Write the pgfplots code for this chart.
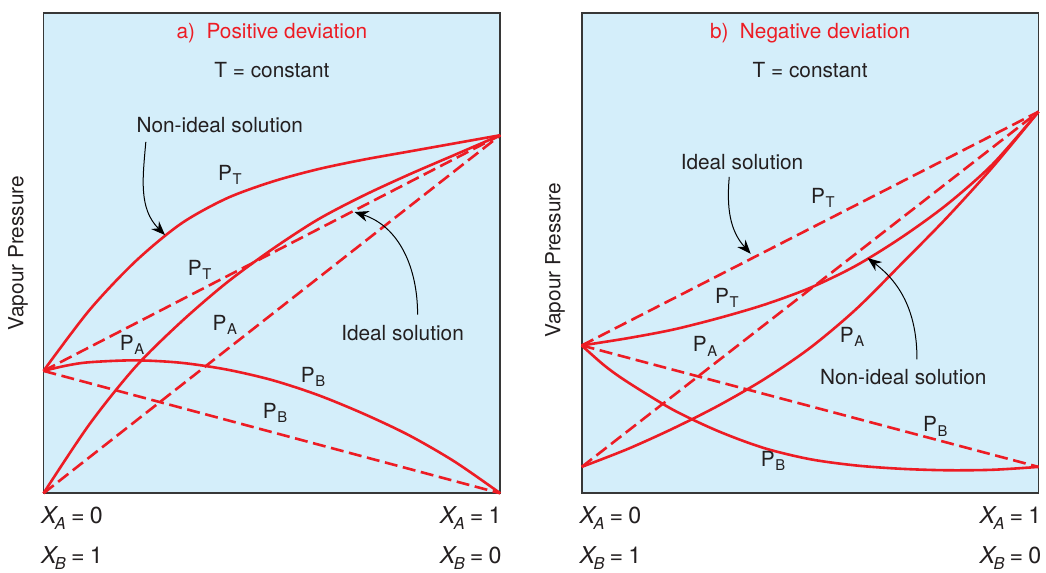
\documentclass[border=0pt]{standalone}
\usepackage{fontspec}
\setmainfont{TeX Gyre Heros}
\usepackage{pgfplots}
\pgfplotsset{compat=1.18}
\usetikzlibrary{arrows.meta}
\definecolor{bgblue}{RGB}{212,238,250}
\definecolor{pred}{RGB}{237,28,36}
\definecolor{framec}{RGB}{55,55,55}
\definecolor{txt}{RGB}{35,31,32}
\newcommand{\Ps}[1]{P\kern0.3pt\raisebox{-2.2pt}{\fontsize{7.4}{8}\selectfont #1}}
\newcommand{\Xs}[2]{{\fontsize{11.6}{13}\selectfont\itshape X\kern-0.8pt\raisebox{-3pt}{\fontsize{8.2}{9}\selectfont\itshape #1}\hspace{2.6pt}\upshape=\hspace{2.6pt}#2}}
\tikzset{
  dsh/.style={dash pattern=on 6.5pt off 2.8pt},
  lbl/.style={font=\fontsize{10.4}{12}\selectfont, text=txt},
  arr/.style={black, line width=0.5pt, -{Stealth[length=7pt,width=5.5pt]}},
}
\pgfplotsset{
  panel/.style={
    scale only axis, width=228.4pt, height=240pt,
    xmin=0, xmax=1, ymin=0, ymax=1,
    ticks=none, clip=false,
    axis line style={framec, line width=0.8pt},
    axis background/.style={fill=bgblue},
    every axis plot/.append style={pred, line width=1.3pt, line join=round},
  },
}
\begin{document}
\begin{tikzpicture}
\useasboundingbox (-21.75pt,-39.85pt) rectangle (501.25pt,246.65pt);
% ---------------- a) positive deviation
\begin{axis}[panel, at={(0pt,0pt)}, anchor=south west]
\addplot[dsh] coordinates {(0,0) (1,0.746)};
\addplot[dsh] coordinates {(0,0.255) (1,0)};
\addplot[dsh] coordinates {(0,0.255) (1,0.746)};
% non-ideal P_T
\addplot[smooth] coordinates {(0,0.255) (0.1,0.381) (0.2,0.482) (0.3,0.561) (0.4,0.614) (0.5,0.649) (0.6,0.675) (0.7,0.695) (0.8,0.712) (0.9,0.729) (1,0.746)};
% non-ideal P_A
\addplot[smooth] coordinates {(0,0) (0.1,0.143) (0.2,0.262) (0.3,0.356) (0.4,0.438) (0.5,0.508) (0.6,0.570) (0.7,0.620) (0.8,0.664) (0.9,0.705) (1,0.746)};
% non-ideal P_B
\addplot[smooth] coordinates {(0,0.255) (0.05,0.266) (0.1,0.273) (0.2,0.277) (0.3,0.272) (0.4,0.258) (0.5,0.236) (0.6,0.205) (0.7,0.166) (0.8,0.121) (0.9,0.066) (1,0)};
\node[lbl, text=pred] at (0.5,0.959) {a)\hspace{0.55em}Positive deviation};
\node[lbl] at (0.5,0.882) {T = constant};
\node[lbl] at (0.386,0.767) {Non-ideal solution};
\node[lbl] at (0.786,0.334) {Ideal solution};
\node[lbl] at (0.408,0.663) {\Ps{T}};
\node[lbl] at (0.342,0.465) {\Ps{T}};
\node[lbl] at (0.194,0.309) {\Ps{A}};
\node[lbl] at (0.397,0.351) {\Ps{A}};
\node[lbl] at (0.59,0.243) {\Ps{B}};
\node[lbl] at (0.507,0.167) {\Ps{B}};
\draw[arr] (0.224,0.732) to[out=265,in=135] (0.266,0.538);
\draw[arr] (0.819,0.372) to[out=90,in=342] (0.681,0.586);
\end{axis}
% ---------------- b) negative deviation
\begin{axis}[panel, at={(269.1pt,0pt)}, anchor=south west]
\addplot[dsh] coordinates {(0,0.055) (1,0.795)};
\addplot[dsh] coordinates {(0,0.308) (1,0.055)};
\addplot[dsh] coordinates {(0,0.308) (1,0.795)};
% non-ideal P_T
\addplot[smooth] coordinates {(0,0.308) (0.1,0.323) (0.2,0.341) (0.3,0.365) (0.4,0.393) (0.5,0.428) (0.6,0.474) (0.7,0.533) (0.8,0.602) (0.9,0.686) (1,0.795)};
% non-ideal P_A
\addplot[smooth] coordinates {(0,0.055) (0.1,0.092) (0.2,0.135) (0.3,0.183) (0.4,0.238) (0.5,0.303) (0.6,0.383) (0.7,0.478) (0.8,0.575) (0.9,0.680) (1,0.795)};
% non-ideal P_B
\addplot[smooth] coordinates {(0,0.308) (0.05,0.266) (0.1,0.232) (0.2,0.174) (0.3,0.129) (0.4,0.094) (0.5,0.071) (0.6,0.058) (0.7,0.051) (0.8,0.048) (0.9,0.049) (1,0.055)};
\node[lbl, text=pred] at (0.5,0.958) {b)\hspace{0.55em}Negative deviation};
\node[lbl] at (0.5,0.881) {T = constant};
\node[lbl] at (0.351,0.69) {Ideal solution};
\node[lbl] at (0.704,0.243) {Non-ideal solution};
\node[lbl] at (0.528,0.615) {\Ps{T}};
\node[lbl] at (0.318,0.407) {\Ps{T}};
\node[lbl] at (0.27,0.306) {\Ps{A}};
\node[lbl] at (0.592,0.326) {\Ps{A}};
\node[lbl] at (0.774,0.139) {\Ps{B}};
\node[lbl] at (0.419,0.067) {\Ps{B}};
\draw[arr] (0.323,0.659) to[out=265,in=132] (0.370,0.499);
\draw[arr] (0.734,0.279) to[out=90,in=323] (0.626,0.490);
\end{axis}
% ---------------- outside labels
\node[lbl, rotate=90] at (-12.75pt,120.15pt) {Vapour Pressure};
\node[lbl, rotate=90] at (255.75pt,116.65pt) {Vapour Pressure};
\node[anchor=base west, inner sep=0pt, text=txt] at (-1.4pt,-15pt) {\Xs{A}{0}};
\node[anchor=base west, inner sep=0pt, text=txt] at (-1.4pt,-35pt) {\Xs{B}{1}};
\node[anchor=base east, inner sep=0pt, text=txt] at (229.25pt,-15pt) {\Xs{A}{1}};
\node[anchor=base east, inner sep=0pt, text=txt] at (229.25pt,-35pt) {\Xs{B}{0}};
\node[anchor=base west, inner sep=0pt, text=txt] at (267.9pt,-15pt) {\Xs{A}{0}};
\node[anchor=base west, inner sep=0pt, text=txt] at (267.9pt,-35pt) {\Xs{B}{1}};
\node[anchor=base east, inner sep=0pt, text=txt] at (499.1pt,-15pt) {\Xs{A}{1}};
\node[anchor=base east, inner sep=0pt, text=txt] at (499.1pt,-35pt) {\Xs{B}{0}};
\end{tikzpicture}
\end{document}
